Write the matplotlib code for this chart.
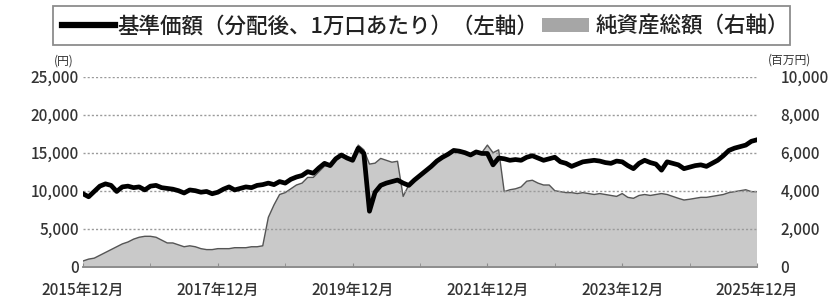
import matplotlib
matplotlib.use("Agg")
import matplotlib.pyplot as plt
from matplotlib.lines import Line2D
from matplotlib.patches import Patch, Rectangle
import numpy as np

plt.rcParams['font.family'] = ['Noto Sans CJK JP', 'DejaVu Sans']

# ---- data (monthly) ----
months = [f"{y}-{m:02d}" for y in range(2015, 2026) for m in range(1, 13)]
months = months[months.index("2015-12"):months.index("2025-12") + 1]

nav = [
    9600,                                                                    # 2015-12
    9200, 9900, 10600, 10900, 10700, 9900, 10500, 10600, 10400, 10500, 10100, 10600,  # 2016
    10700, 10400, 10300, 10200, 10000, 9700, 10100, 10000, 9800, 9900, 9600, 9800,     # 2017
    10200, 10500, 10100, 10300, 10500, 10400, 10700, 10800, 11000, 10800, 11200, 11000,  # 2018
    11500, 11800, 12000, 12500, 12300, 13000, 13600, 13300, 14200, 14700, 14300, 14000,  # 2019
    15600, 14900, 7300, 9800, 10700, 11000, 11200, 11400, 11000, 10700, 11400, 12000,    # 2020
    12600, 13200, 13900, 14400, 14800, 15300, 15200, 15000, 14700, 15100, 14900, 14900,  # 2021
    13400, 14300, 14200, 14000, 14100, 14000, 14400, 14600, 14300, 14000, 14200, 14400,  # 2022
    13800, 13600, 13200, 13500, 13800, 13900, 14000, 13900, 13700, 13600, 13900, 13800,  # 2023
    13300, 12900, 13600, 14000, 13700, 13500, 12700, 13800, 13600, 13400, 12900, 13100,  # 2024
    13300, 13400, 13200, 13600, 14000, 14600, 15300, 15600, 15800, 16000, 16500, 16700,  # 2025
]

net_assets = [
    300,                                                                     # 2015-12
    400, 450, 600, 750, 900, 1050, 1200, 1300, 1450, 1550, 1600, 1600,        # 2016
    1550, 1400, 1250, 1250, 1150, 1050, 1100, 1050, 950, 900, 900, 950,       # 2017
    950, 950, 1000, 1000, 1000, 1050, 1050, 1100, 2600, 3250, 3800, 3900,     # 2018
    4100, 4300, 4400, 4700, 4700, 5000, 5300, 5300, 5600, 5900, 5700, 5550,   # 2019
    6400, 6150, 5400, 5450, 5700, 5600, 5500, 5550, 3700, 4300, 4600, 4800,   # 2020
    5000, 5300, 5550, 5800, 5950, 6150, 6100, 6000, 5900, 6100, 6000, 6400,   # 2021
    6000, 6150, 3950, 4050, 4100, 4200, 4500, 4550, 4400, 4300, 4300, 4000,   # 2022
    3950, 3900, 3900, 3850, 3900, 3850, 3800, 3850, 3800, 3750, 3700, 3850,   # 2023
    3650, 3600, 3750, 3800, 3750, 3800, 3850, 3800, 3700, 3600, 3510, 3550,   # 2024
    3600, 3650, 3650, 3700, 3750, 3800, 3900, 3950, 4000, 4050, 3950, 3950,   # 2025
]

left_ticks = [0, 5000, 10000, 15000, 20000, 25000]
right_ticks = [0, 2000, 4000, 6000, 8000, 10000]
xtick_labels = ["2015年12月", "2017年12月", "2019年12月", "2021年12月", "2023年12月", "2025年12月"]
legend_labels = ["基準価額（分配後、1万口あたり）（左軸）", "純資産総額（右軸）"]

def to_x(s):
    y, m = s.split("-")
    return int(y) + (int(m) - 1) / 12.0

x = np.array([to_x(s) for s in months])
xmaj = [to_x(s.replace("年", "-").replace("月", "")) for s in xtick_labels]
xmin = [to_x(f"{y}-12") for y in range(2015, 2026)]

W, H = 829, 305
fig = plt.figure(figsize=(W / 100, H / 100), dpi=100)
ax = fig.add_axes([83 / W, 1 - 266.7 / H, (757 - 83) / W, (266.7 - 76.7) / H])
ax2 = ax.twinx()
ax.set_zorder(ax2.get_zorder() + 1)
ax.patch.set_visible(False)

ax2.fill_between(x, net_assets, 0, facecolor="#c9c9c9", edgecolor="none", zorder=1)
ax2.plot(x, net_assets, color="#555555", lw=1.0, zorder=2)
ax2.set_ylim(0, 10000)

ax.plot(x, nav, color="black", lw=3.4, solid_joinstyle="round", zorder=5)
ax.set_ylim(0, 25000)
ax.set_xlim(x[0], x[-1])

for v in left_ticks[1:]:
    ax.axhline(v, color="#9a9a9a", lw=1.0, ls=(0, (1.5, 1.5)), zorder=2)

for a in (ax, ax2):
    for s in ("top", "left", "right"):
        a.spines[s].set_visible(False)
    a.spines["bottom"].set_color("#8c8c8c")
    a.spines["bottom"].set_linewidth(1.2)

tcol = "#333333"
ax.set_yticks(left_ticks)
ax.set_yticklabels([f"{v:,}" for v in left_ticks], fontsize=11, color=tcol, fontweight="medium")
ax.tick_params(axis="y", length=0, pad=3)
ax2.set_yticks(right_ticks)
ax2.set_yticklabels([f"{v:,}" for v in right_ticks], fontsize=11, color=tcol, fontweight="medium")
ax2.tick_params(axis="y", length=0, pad=17)

ax.set_xticks(xmaj)
ax.set_xticklabels(xtick_labels, fontsize=11, color=tcol, fontweight="medium")
ax.set_xticks(xmin, minor=True)
ax.tick_params(axis="x", which="both", direction="in", length=3, color="#8c8c8c", pad=12)
ax2.tick_params(axis="x", which="both", length=0)

fig.text(64 / W, 1 - 61 / H, "(円)", fontsize=8.5, color=tcol, ha="center", va="center")
fig.text(790 / W, 1 - 60 / H, "(百万円)", fontsize=8.5, color=tcol, ha="center", va="center")

# legend frame
fig.patches.append(Rectangle((53 / W, 1 - 45 / H), (790 - 53) / W, 39 / H,
                             transform=fig.transFigure, facecolor="none",
                             edgecolor="#8c8c8c", lw=1.3))
fs = 15.5
ycen = 1 - 26.5 / H
leg1 = fig.legend([Line2D([0], [0], color="black", lw=4.5)], [legend_labels[0]],
                  loc="center left", bbox_to_anchor=(62 / W, ycen), frameon=False,
                  fontsize=fs, handlelength=2.45, handletextpad=0.1, borderpad=0, borderaxespad=0)
leg2 = fig.legend([Patch(facecolor="#a6a6a6", edgecolor="none")], [legend_labels[1]],
                  loc="center left", bbox_to_anchor=(542 / W, ycen), frameon=False,
                  fontsize=fs, handlelength=2.2, handleheight=0.6, handletextpad=0.3,
                  borderpad=0, borderaxespad=0)
for lg in (leg1, leg2):
    for t in lg.get_texts():
        t.set_color("#222222")
        t.set_fontweight("medium")

fig.savefig("out.png", dpi=100)
